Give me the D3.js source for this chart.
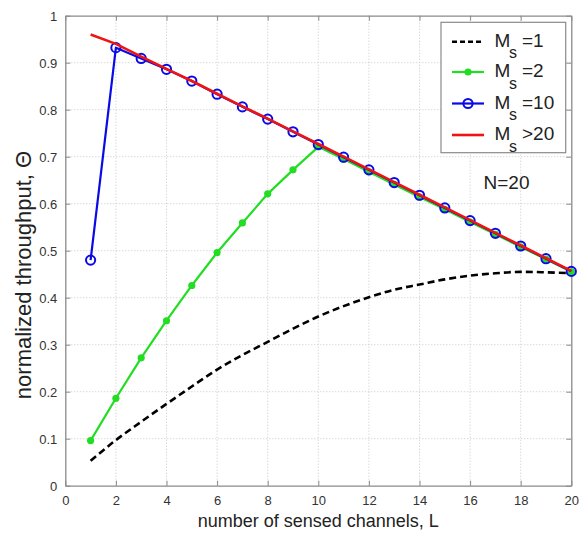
<!DOCTYPE html>
<html>
<head>
<meta charset="utf-8">
<script src="https://cdn.jsdelivr.net/npm/d3@7"></script>
<style>
  html, body { margin: 0; padding: 0; background: #fff; }
  svg { display: block; font-family: "Liberation Sans", Arial, sans-serif; }
</style>
</head>
<body>
<svg id="chart" width="581" height="533"></svg>
<script>
// Number of sensed channels L
const channels = d3.range(1, 21);

// Normalized throughput for each sensing budget M_s
const ms1 = [0.053, 0.097, 0.136, 0.174, 0.211, 0.247, 0.278, 0.306, 0.334, 0.360,
             0.382, 0.401, 0.417, 0.428, 0.439, 0.447, 0.452, 0.455, 0.454, 0.452];
const ms2 = [0.096, 0.186, 0.272, 0.351, 0.426, 0.496, 0.559, 0.621, 0.672, 0.721,
             0.695, 0.668, 0.641, 0.614, 0.588, 0.561, 0.535, 0.508, 0.482, 0.455];
const ms10 = [0.480, 0.932, 0.909, 0.886, 0.861, 0.833, 0.806, 0.780, 0.753, 0.726,
              0.699, 0.672, 0.645, 0.618, 0.591, 0.564, 0.537, 0.510, 0.483, 0.456];
const ms20 = [0.960, 0.940, 0.913, 0.887, 0.861, 0.834, 0.807, 0.781, 0.754, 0.727,
              0.700, 0.673, 0.646, 0.619, 0.592, 0.565, 0.538, 0.511, 0.484, 0.457];

const xTicks = d3.range(0, 21, 2);
const yTicks = [0, 0.1, 0.2, 0.3, 0.4, 0.5, 0.6, 0.7, 0.8, 0.9, 1];
const yTickLabels = ["0", "0.1", "0.2", "0.3", "0.4", "0.5", "0.6", "0.7", "0.8", "0.9", "1"];

const legendItems = [
  { sub: "s", rel: "=1",  key: "ms1" },
  { sub: "s", rel: "=2",  key: "ms2" },
  { sub: "s", rel: "=10", key: "ms10" },
  { sub: "s", rel: ">20", key: "ms20" }
];

const styles = {
  ms1:  { color: "#000000", width: 2.6, dash: "7,4", marker: null },
  ms2:  { color: "#22dd22", width: 2.2, dash: null,  marker: "dot" },
  ms10: { color: "#0a0ae6", width: 2.2, dash: null,  marker: "ring" },
  ms20: { color: "#ee1414", width: 2.6, dash: null,  marker: null }
};
const seriesData = { ms1, ms2, ms10, ms20 };

const svg = d3.select("#chart");
const margin = { left: 65.3, right: 581 - 571.3, top: 15.7, bottom: 533 - 485.7 };
const W = 581 - margin.left - margin.right;
const H = 533 - margin.top - margin.bottom;

const x = d3.scaleLinear().domain([0, 20]).range([margin.left, margin.left + W]);
const y = d3.scaleLinear().domain([0, 1]).range([margin.top + H, margin.top]);

// Dotted grid
const grid = svg.append("g");
grid.selectAll("line.gx").data(xTicks.slice(1, -1)).join("line")
  .attr("x1", d => x(d)).attr("x2", d => x(d))
  .attr("y1", y(0)).attr("y2", y(1))
  .attr("stroke", "#c8c8c8").attr("stroke-width", 1).attr("stroke-dasharray", "1,2");
grid.selectAll("line.gy").data(yTicks.slice(1, -1)).join("line")
  .attr("y1", d => y(d)).attr("y2", d => y(d))
  .attr("x1", x(0)).attr("x2", x(20))
  .attr("stroke", "#c8c8c8").attr("stroke-width", 1).attr("stroke-dasharray", "1,2");

// Axes with inward ticks on all four sides
const axisColor = "#8a8a8a";
const gBottom = svg.append("g").attr("transform", `translate(0,${y(0)})`)
  .call(d3.axisBottom(x).tickValues(xTicks).tickSizeInner(-5).tickSizeOuter(0).tickPadding(10));
const gTop = svg.append("g").attr("transform", `translate(0,${y(1)})`)
  .call(d3.axisTop(x).tickValues(xTicks).tickSizeInner(-5).tickSizeOuter(0).tickFormat(""));
const gLeft = svg.append("g").attr("transform", `translate(${x(0)},0)`)
  .call(d3.axisLeft(y).tickValues(yTicks).tickSizeInner(-5).tickSizeOuter(0).tickPadding(8)
    .tickFormat((d, i) => yTickLabels[i]));
const gRight = svg.append("g").attr("transform", `translate(${x(20)},0)`)
  .call(d3.axisRight(y).tickValues(yTicks).tickSizeInner(-5).tickSizeOuter(0).tickFormat(""));

[gBottom, gTop, gLeft, gRight].forEach(g => {
  g.select(".domain").attr("stroke", axisColor).attr("stroke-width", 1.3);
  g.selectAll(".tick line").attr("stroke", axisColor).attr("stroke-width", 1);
  g.selectAll(".tick text").attr("fill", "#333").attr("font-size", 13)
    .attr("font-family", "'Liberation Sans', Arial, sans-serif");
});
gLeft.selectAll(".tick text").attr("dy", "0.36em");
gBottom.selectAll(".tick text").attr("dy", "0.71em");

// Series
const line = d3.line().x((d, i) => x(channels[i])).y(d => y(d));
const smooth = d3.line().x((d, i) => x(channels[i])).y(d => y(d)).curve(d3.curveMonotoneX);

const plot = svg.append("g");
["ms1", "ms2", "ms10", "ms20"].forEach(key => {
  const st = styles[key];
  plot.append("path")
    .datum(seriesData[key])
    .attr("d", key === "ms1" ? smooth : line)
    .attr("fill", "none")
    .attr("stroke", st.color)
    .attr("stroke-width", st.width)
    .attr("stroke-dasharray", st.dash)
    .attr("stroke-linejoin", "round");
  if (st.marker === "dot") {
    plot.selectAll(null).data(seriesData[key]).join("circle")
      .attr("cx", (d, i) => x(channels[i])).attr("cy", d => y(d))
      .attr("r", 3.6).attr("fill", st.color);
  } else if (st.marker === "ring") {
    plot.selectAll(null).data(seriesData[key]).join("circle")
      .attr("cx", (d, i) => x(channels[i])).attr("cy", d => y(d))
      .attr("r", 4.6).attr("fill", "none")
      .attr("stroke", st.color).attr("stroke-width", 2);
  }
});

// Annotation
svg.append("text").attr("x", 483.5).attr("y", 188.5)
  .attr("font-size", 19).attr("fill", "#222").text("N=20");

// Legend
const lg = svg.append("g");
lg.append("rect").attr("x", 441).attr("y", 22.3).attr("width", 124.7).attr("height", 130.4)
  .attr("fill", "#fff").attr("stroke", "#8a8a8a").attr("stroke-width", 1.2);
const rowY = [41.7, 72, 103.5, 135];
legendItems.forEach((item, i) => {
  const st = styles[item.key];
  const ry = rowY[i];
  lg.append("line").attr("x1", 452).attr("x2", 484).attr("y1", ry).attr("y2", ry)
    .attr("stroke", st.color).attr("stroke-width", st.width)
    .attr("stroke-dasharray", st.key === "ms1" || item.key === "ms1" ? "5,3" : null);
  if (st.marker === "dot") {
    lg.append("circle").attr("cx", 468).attr("cy", ry).attr("r", 3.6).attr("fill", st.color);
  } else if (st.marker === "ring") {
    lg.append("circle").attr("cx", 468).attr("cy", ry).attr("r", 4.6)
      .attr("fill", "none").attr("stroke", st.color).attr("stroke-width", 2);
  }
  lg.append("text").attr("x", 494.5).attr("y", ry + 5.2).attr("font-size", 19).attr("fill", "#222").text("M");
  lg.append("text").attr("x", 509).attr("y", ry + 16.6).attr("font-size", 16).attr("fill", "#222").text(item.sub);
  lg.append("text").attr("x", 522).attr("y", ry + 5.2).attr("font-size", 19).attr("fill", "#222").text(item.rel);
});

// Axis titles
svg.append("text").attr("x", x(10)).attr("y", 527)
  .attr("text-anchor", "middle").attr("font-size", 18).attr("fill", "#222")
  .text("number of sensed channels, L");
svg.append("text").attr("transform", "translate(31,275) rotate(-90)")
  .attr("text-anchor", "middle").attr("font-size", 22).attr("fill", "#222")
  .text("normalized throughput, Θ");
</script>
</body>
</html>
